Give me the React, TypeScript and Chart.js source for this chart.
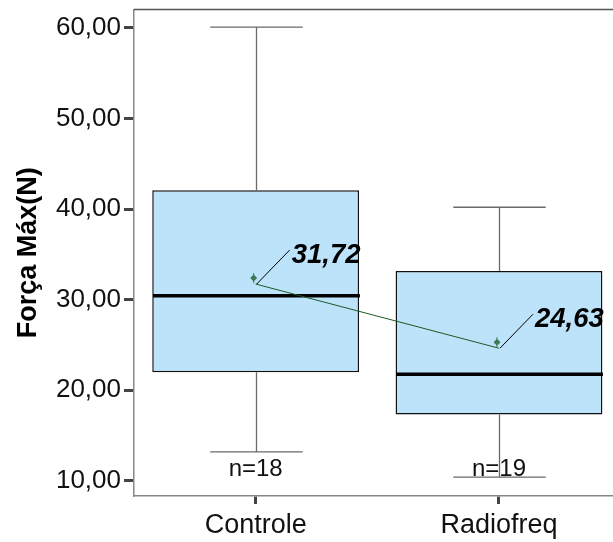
import React, { useEffect, useRef } from 'react';
import { Chart, registerables } from 'chart.js';

Chart.register(...registerables);

const categories = ['Controle', 'Radiofreq'];
const whiskerLow = [13.18, 10.39];
const quartile1 = [21.98, 17.31];
const medians = [30.43, 21.76];
const quartile3 = [42.08, 33.17];
const whiskerHigh = [60.1, 40.2];
const means = [31.72, 24.63];
const counts = [18, 19];
const yTickValues = [10, 20, 30, 40, 50, 60];

const FONT = "'Liberation Sans', Arial, Helvetica, sans-serif";
const fmt = (v: number) => v.toFixed(2).replace('.', ',');

const boxPlugin = {
  id: 'boxExtras',
  afterDatasetDraw(chart: any, args: any) {
    if (args.index !== 1) return;
    const { ctx, scales } = chart;
    const x = scales.x;
    const y = scales.y;
    const unit = x.getPixelForValue(1) - x.getPixelForValue(0);
    const boxHalf = unit * 0.425;
    const capHalf = unit * 0.19;
    ctx.save();
    categories.forEach((_, i) => {
      const cx = Math.round(x.getPixelForValue(i)) + 0.5;
      ctx.strokeStyle = '#6a6a6a';
      ctx.lineWidth = 1.3;
      ctx.beginPath();
      ctx.moveTo(cx, y.getPixelForValue(quartile3[i]));
      ctx.lineTo(cx, y.getPixelForValue(whiskerHigh[i]));
      ctx.moveTo(cx, y.getPixelForValue(quartile1[i]));
      ctx.lineTo(cx, y.getPixelForValue(whiskerLow[i]));
      ctx.moveTo(cx - capHalf, y.getPixelForValue(whiskerHigh[i]));
      ctx.lineTo(cx + capHalf, y.getPixelForValue(whiskerHigh[i]));
      ctx.moveTo(cx - capHalf, y.getPixelForValue(whiskerLow[i]));
      ctx.lineTo(cx + capHalf, y.getPixelForValue(whiskerLow[i]));
      ctx.stroke();
      ctx.strokeStyle = '#000';
      ctx.lineWidth = 3.5;
      ctx.beginPath();
      ctx.moveTo(cx - boxHalf, y.getPixelForValue(medians[i]));
      ctx.lineTo(cx + boxHalf, y.getPixelForValue(medians[i]));
      ctx.stroke();
    });
    ctx.restore();
  },
  afterDatasetsDraw(chart: any) {
    const { ctx, scales, chartArea } = chart;
    const x = scales.x;
    const y = scales.y;
    ctx.save();
    ctx.strokeStyle = '#555';
    ctx.lineWidth = 1.5;
    ctx.beginPath();
    ctx.moveTo(chartArea.left, chartArea.top);
    ctx.lineTo(chartArea.right, chartArea.top);
    ctx.stroke();

    categories.forEach((_, i) => {
      const px = x.getPixelForValue(i);
      const py = y.getPixelForValue(means[i]);
      ctx.strokeStyle = '#000';
      ctx.lineWidth = 1;
      ctx.beginPath();
      ctx.moveTo(px + 1, py);
      ctx.lineTo(px + 34, py - 34);
      ctx.stroke();
      const mx = px - 2;
      const my = py - 6;
      ctx.fillStyle = '#3f7a55';
      ctx.beginPath();
      ctx.moveTo(mx, my - 3.5);
      ctx.lineTo(mx + 3.5, my);
      ctx.lineTo(mx, my + 3.5);
      ctx.lineTo(mx - 3.5, my);
      ctx.closePath();
      ctx.fill();
      ctx.strokeStyle = '#3f7a55';
      ctx.lineWidth = 1;
      ctx.beginPath();
      ctx.moveTo(mx, my - 5);
      ctx.lineTo(mx, my + 5);
      ctx.stroke();
      ctx.fillStyle = '#000';
      ctx.font = `italic bold 27.5px ${FONT}`;
      ctx.textAlign = 'left';
      ctx.textBaseline = 'alphabetic';
      ctx.fillText(fmt(means[i]), px + 36, py - 21);
      ctx.font = `24px ${FONT}`;
      ctx.textAlign = 'center';
      ctx.fillStyle = '#111';
      ctx.fillText(`n=${counts[i]}`, px, chartArea.bottom - 20);
    });
    ctx.restore();
  },
};

export default function App() {
  const ref = useRef<HTMLCanvasElement | null>(null);
  useEffect(() => {
    if (!ref.current) return;
    const chart = new Chart(ref.current, {
      type: 'bar',
      data: {
        datasets: [
          {
            type: 'line',
            data: categories.map((_, i) => ({ x: i, y: means[i] })),
            borderColor: '#1d5a22',
            borderWidth: 1,
            pointRadius: 0,
          } as any,
          {
            type: 'bar',
            data: categories.map((_, i) => ({ x: i, y: [quartile1[i], quartile3[i]] })),
            backgroundColor: '#bde3fb',
            borderColor: '#111',
            borderWidth: 1.5,
            borderSkipped: false,
            categoryPercentage: 1,
            barPercentage: 0.85,
          } as any,
        ],
      },
      options: {
        animation: false,
        responsive: false,
        layout: { padding: { top: 9.5, left: 0, right: 0, bottom: 0 } },
        plugins: { legend: { display: false }, tooltip: { enabled: false } },
        scales: {
          x: {
            type: 'linear',
            offset: false,
            min: -0.5,
            max: 1.4686,
            afterFit: (s: any) => {
              s.height = 46;
              s.paddingLeft = 0;
              s.paddingRight = 0;
            },
            afterBuildTicks: (s: any) => { s.ticks = categories.map((_, i) => ({ value: i })); },
            ticks: {
              autoSkip: false,
              maxRotation: 0,
              padding: 5,
              color: '#111',
              font: { family: FONT, size: 27 },
              callback: (v: any) => categories[v as number] ?? '',
            },
            grid: { offset: false, drawOnChartArea: false, drawTicks: true, tickLength: 8, tickWidth: 3, tickColor: '#444' },
            border: { display: true, color: '#888', width: 1.5 },
          },
          y: {
            type: 'linear',
            min: 8.31,
            max: 62.04,
            afterFit: (s: any) => {
              s.width = 134;
              s.paddingTop = 0;
              s.paddingBottom = 0;
            },
            afterBuildTicks: (s: any) => { s.ticks = yTickValues.map((v) => ({ value: v })); },
            ticks: {
              padding: 3,
              color: '#111',
              font: { family: FONT, size: 26 },
              callback: (v: any) => fmt(Number(v)),
            },
            grid: { drawOnChartArea: false, drawTicks: true, tickLength: 10, tickWidth: 3, tickColor: '#444' },
            border: { display: true, color: '#888', width: 1.5 },
            title: {
              display: true,
              text: 'Força Máx(N)',
              color: '#000',
              font: { family: FONT, size: 27, weight: 'bold' },
              padding: { top: 12, bottom: 0 },
            },
          },
        },
      } as any,
      plugins: [boxPlugin],
    });
    return () => chart.destroy();
  }, []);
  return (
    <div style={{ position: 'fixed', left: 0, top: 0, width: 613, height: 542, background: '#fff' }}>
      <canvas ref={ref} width={613} height={542} />
    </div>
  );
}
